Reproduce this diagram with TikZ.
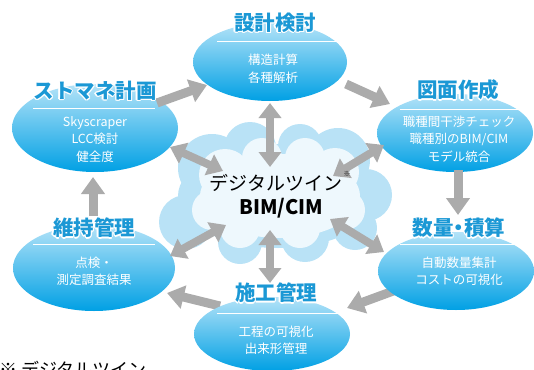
\documentclass[tikz,border=0pt]{standalone}
\usepackage{fontspec}
\setmainfont{Noto Sans CJK JP}
\usetikzlibrary{shapes.geometric,arrows.meta,calc}
\definecolor{arrowgray}{HTML}{ABABAB}
\definecolor{titleblue}{HTML}{1B98D5}
\definecolor{elltop}{HTML}{B4E3F8}
\definecolor{ellmid}{HTML}{4FBDEC}
\definecolor{ellbot}{HTML}{00A0E4}
\definecolor{cloudout}{HTML}{B9E2F6}
\definecolor{cloudin}{HTML}{EEF8FD}
\tikzset{
  bubble/.style={ellipse, draw=none, shading=axis, top color=elltop, middle color=ellmid, bottom color=ellbot, shading angle=0, inner sep=0pt},
  ttlfont/.style={font=\fontsize{20.5}{22}\selectfont\bfseries, inner sep=0pt},
  bodytext/.style={font=\fontsize{12.5}{17.5}\selectfont, text=white, align=center, inner sep=0pt},
  sepline/.style={draw=white, line width=0.9pt},
  cyc/.style={draw=arrowgray, line width=9pt, -{Triangle[width=23pt,length=17pt]}},
  dbl/.style={draw=arrowgray, line width=8pt, {Triangle[width=22pt,length=15pt]}-{Triangle[width=22pt,length=15pt]}},
}
\newcommand{\glowttl}[3]{%
  \foreach \dx/\dy in {1.2/0,-1.2/0,0/1.2,0/-1.2,0.85/0.85,-0.85/0.85,0.85/-0.85,-0.85/-0.85}{%
    \node[ttlfont, text=white] at ($(#2)+(\dx,\dy)$) {#3};}%
  \node[ttlfont, text=titleblue] (#1) at (#2) {#3};}
\begin{document}
\begin{tikzpicture}[x=1pt,y=-1pt]
\useasboundingbox (0,0) rectangle (534,369);
% cloud
\fill[cloudout] (278,196) ellipse [x radius=100, y radius=52];
\fill[cloudout] (212,168) circle (34);
\fill[cloudout] (250,148) circle (26);
\fill[cloudout] (300,146) circle (22);
\fill[cloudout] (338,160) circle (32);
\fill[cloudout] (366,195) circle (26);
\fill[cloudout] (355,228) circle (22);
\fill[cloudout] (305,238) circle (24);
\fill[cloudout] (240,242) circle (22);
\fill[cloudout] (186,222) circle (27);
\fill[cloudin] (280,196) ellipse [x radius=80, y radius=42];
\fill[cloudin] (225,175) circle (26);
\fill[cloudin] (262,158) circle (20);
\fill[cloudin] (305,158) circle (20);
\fill[cloudin] (335,172) circle (24);
\fill[cloudin] (345,210) circle (20);
\fill[cloudin] (300,228) circle (20);
\fill[cloudin] (240,228) circle (20);
\fill[cloudin] (212,210) circle (20);
% ellipses
\node[bubble, minimum width=154pt, minimum height=78pt] (sekkei) at (270,62) {};
\node[bubble, minimum width=166pt, minimum height=88pt] (sutomane) at (95,128) {};
\node[bubble, minimum width=156pt, minimum height=78pt] (zumen) at (455,133) {};
\node[bubble, minimum width=162pt, minimum height=86pt] (iji) at (94,268) {};
% arrow end points
\coordinate (a1s) at (157,103); \coordinate (a1e) at (207,85);
\coordinate (a2s) at (346,84); \coordinate (a2e) at (390,104);
\coordinate (a3s) at (458,170); \coordinate (a3e) at (458,215);
\coordinate (a4s) at (396,290); \coordinate (a4e) at (347,308);
\coordinate (a5s) at (220,306); \coordinate (a5e) at (167,293);
\coordinate (a6s) at (93,216); \coordinate (a6e) at (93,177);
\coordinate (d1s) at (270,103); \coordinate (d1e) at (270,167);
\coordinate (d2s) at (270,230); \coordinate (d2e) at (270,283);
\coordinate (d3s) at (170,147); \coordinate (d3e) at (223,171);
\coordinate (d4s) at (333,176); \coordinate (d4e) at (384,145);
\coordinate (d5s) at (170,256); \coordinate (d5e) at (226,225);
\coordinate (d6s) at (330,219); \coordinate (d6e) at (384,252);
\draw[cyc] (a1s) -- (a1e);
\draw[cyc] (a2s) -- (a2e);
\draw[cyc] (a3s) -- (a3e);
\draw[cyc] (a4s) -- (a4e);
\draw[cyc] (a5s) -- (a5e);
\draw[cyc] (a6s) -- (a6e);
\draw[dbl] (d1s) -- (d1e);
\draw[dbl] (d2s) -- (d2e);
\draw[dbl] (d3s) -- (d3e);
\draw[dbl] (d4s) -- (d4e);
\draw[dbl] (d5s) -- (d5e);
\draw[dbl] (d6s) -- (d6e);
% lower ellipses drawn over arrow tails
\node[bubble, minimum width=156pt, minimum height=74pt] (seko) at (272,334) {};
\node[bubble, minimum width=156pt, minimum height=78pt] (suryo) at (456,271) {};
% titles
\glowttl{t1}{275,23}{設計検討}
\glowttl{t2}{95,91}{ストマネ計画}
\glowttl{t3}{458,90}{図面作成}
\glowttl{t4}{94,228}{維持管理}
\glowttl{t5}{459,228}{数量\kern-5pt・\kern-5pt積算}
\glowttl{t6}{276,293}{施工管理}
% separators
\draw[sepline] (217,41) -- (337,41);
\draw[sepline] (33,108) -- (155,108);
\draw[sepline] (400,109) -- (522,109);
\draw[sepline] (33,244) -- (155,244);
\draw[sepline] (400,244) -- (522,244);
\draw[sepline] (217,313) -- (338,313);
% body texts
\node[bodytext] (b1) at (273,68.5) {構造計算\\各種解析};
\node[bodytext] (b2) at (95,139.5) {Skyscraper\\LCC検討\\健全度};
\node[bodytext] (b3) at (459,139) {職種間干渉チェック\\職種別のBIM/CIM\\モデル統合};
\node[bodytext] (b4) at (94,271.5) {点検・\\測定調査結果};
\node[bodytext] (b5) at (459,271) {自動数量集計\\コストの可視化};
\node[bodytext] (b6) at (276,340.5) {工程の可視化\\出来形管理};
% center
\node[font=\fontsize{19}{20}\selectfont, inner sep=0pt] (c1) at (276,183) {デジタルツイン};
\node[font=\fontsize{7}{8}\selectfont, inner sep=0pt, anchor=west] (c1s) at ([xshift=1pt]c1.north east) {※};
\node[font=\fontsize{20}{22}\selectfont\bfseries, inner sep=0pt] (c2) at (281,208) {BIM/CIM};
% footnote (cut by page edge)
\node[font=\fontsize{18}{20}\selectfont, inner sep=0pt, anchor=west] (fn) at (-1,369) {※ デジタルツイン};
\end{tikzpicture}
\end{document}
